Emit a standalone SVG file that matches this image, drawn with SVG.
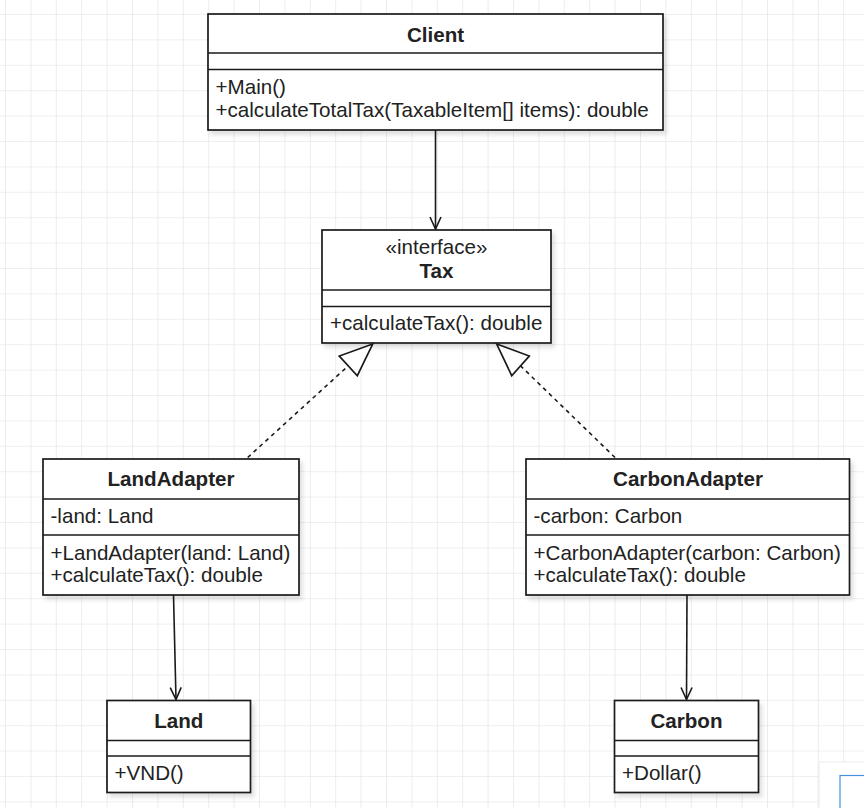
<svg xmlns="http://www.w3.org/2000/svg" width="864" height="808" viewBox="0 0 864 808">
<defs>
<pattern id="grid" x="5" y="14" width="25.4" height="25.4" patternUnits="userSpaceOnUse">
<path d="M0 0H25.4M0 0V25.4" fill="none" stroke="#e0e0e0" stroke-width="1.2"/>
</pattern>
<filter id="sh" x="-10%" y="-10%" width="130%" height="140%">
<feDropShadow dx="3" dy="4" stdDeviation="2" flood-color="#000" flood-opacity="0.12"/>
</filter>
<marker id="open" viewBox="0 0 14 14" refX="13" refY="7" markerWidth="14" markerHeight="14" markerUnits="userSpaceOnUse" orient="auto">
<path d="M1 1.5L13 7L1 12.5" fill="none" stroke="#1a1a1a" stroke-width="1.6"/>
</marker>
</defs>
<style>
.box{fill:#fff;stroke:#1a1a1a;stroke-width:1.7}
.sep{stroke:#1a1a1a;stroke-width:1.7}
text{font-family:"Liberation Sans",Arial,sans-serif;font-size:20.6px;fill:#222}
.t{font-weight:bold;text-anchor:middle}
.c{text-anchor:middle}
.edge{fill:none;stroke:#1a1a1a;stroke-width:1.6}
.dash{stroke-dasharray:4 4}
.tri{fill:#fff;stroke:#1a1a1a;stroke-width:1.7;stroke-linejoin:miter}
</style>
<rect width="864" height="808" fill="#fff"/>
<rect width="864" height="808" fill="url(#grid)"/>

<g id="Client">
<rect class="box" x="208" y="14" width="455" height="116" filter="url(#sh)"/>
<line class="sep" x1="208" y1="53" x2="663" y2="53"/>
<line class="sep" x1="208" y1="69.5" x2="663" y2="69.5"/>
<text class="t" x="435.5" y="41.5">Client</text>
<text x="215.5" y="94">+Main()</text>
<text x="215.5" y="116.5">+calculateTotalTax(TaxableItem[] items): double</text>
</g>

<g id="Tax">
<rect class="box" x="322" y="230" width="229" height="113" filter="url(#sh)"/>
<line class="sep" x1="322" y1="290" x2="551" y2="290"/>
<line class="sep" x1="322" y1="306.5" x2="551" y2="306.5"/>
<text class="c" x="436.5" y="254">«interface»</text>
<text class="t" x="436.5" y="278">Tax</text>
<text x="330" y="330">+calculateTax(): double</text>
</g>

<g id="LandAdapter">
<rect class="box" x="43" y="459" width="256" height="136" filter="url(#sh)"/>
<line class="sep" x1="43" y1="499" x2="299" y2="499"/>
<line class="sep" x1="43" y1="535" x2="299" y2="535"/>
<text class="t" x="171" y="486">LandAdapter</text>
<text x="50.5" y="522.5">-land: Land</text>
<text x="50.5" y="560">+LandAdapter(land: Land)</text>
<text x="50.5" y="582">+calculateTax(): double</text>
</g>

<g id="CarbonAdapter">
<rect class="box" x="526" y="459" width="323.5" height="136" filter="url(#sh)"/>
<line class="sep" x1="526" y1="499" x2="849.5" y2="499"/>
<line class="sep" x1="526" y1="535" x2="849.5" y2="535"/>
<text class="t" x="688" y="486">CarbonAdapter</text>
<text x="533.5" y="522.5">-carbon: Carbon</text>
<text x="533.5" y="560">+CarbonAdapter(carbon: Carbon)</text>
<text x="533.5" y="582">+calculateTax(): double</text>
</g>

<g id="Land">
<rect class="box" x="107" y="700.5" width="143.5" height="92" filter="url(#sh)"/>
<line class="sep" x1="107" y1="740.5" x2="250.5" y2="740.5"/>
<line class="sep" x1="107" y1="756" x2="250.5" y2="756"/>
<text class="t" x="178.8" y="727.5">Land</text>
<text x="114.5" y="780">+VND()</text>
</g>

<g id="Carbon">
<rect class="box" x="614.5" y="700.5" width="144" height="92" filter="url(#sh)"/>
<line class="sep" x1="614.5" y1="740.5" x2="758.5" y2="740.5"/>
<line class="sep" x1="614.5" y1="756" x2="758.5" y2="756"/>
<text class="t" x="686.5" y="727.5">Carbon</text>
<text x="622" y="780">+Dollar()</text>
</g>

<g id="connectors">
<line class="edge" x1="435.5" y1="130" x2="435.5" y2="229" marker-end="url(#open)"/>
<line class="edge dash" x1="247.7" y1="457.5" x2="348.3" y2="365.8"/>
<polygon class="tri" points="372.7,344 339.3,356 357.3,375.7"/>
<line class="edge dash" x1="615" y1="457.5" x2="520.5" y2="365.8"/>
<polygon class="tri" points="496.7,344 529.3,356 511.7,375.7"/>
<line class="edge" x1="173.5" y1="595" x2="176" y2="699.5" marker-end="url(#open)"/>
<line class="edge" x1="687" y1="595" x2="686.5" y2="699.5" marker-end="url(#open)"/>
</g>

<g id="widget">
<rect x="819" y="762" width="60" height="60" fill="#fff" stroke="#ececec" stroke-width="1" filter="url(#sh)"/>
<rect x="840" y="775.5" width="40" height="40" fill="#fff" stroke="#4a8fe0" stroke-width="1.2"/>
</g>
</svg>
